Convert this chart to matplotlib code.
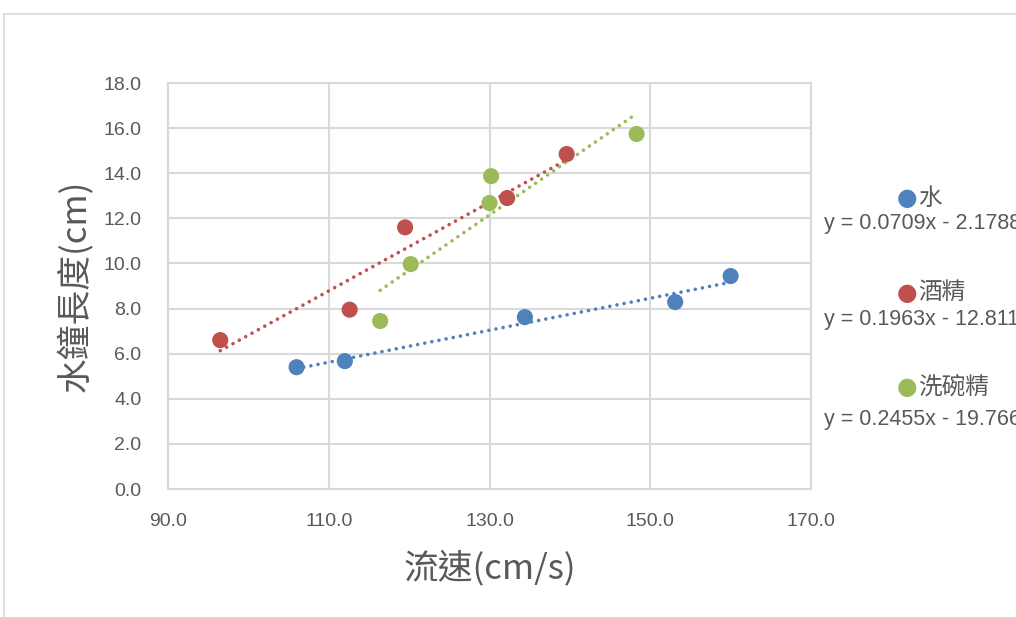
import numpy as np
import matplotlib
matplotlib.use("Agg")
from matplotlib import pyplot as plt
from matplotlib.patches import Rectangle

# data
series_names = ["水", "酒精", "洗碗精"]
water_x = [106.0, 112.0, 134.4, 153.1, 160.0]
water_y = [5.40, 5.67, 7.62, 8.29, 9.44]
alcohol_x = [96.5, 112.6, 119.5, 132.2, 139.6]
alcohol_y = [6.60, 7.95, 11.60, 12.90, 14.85]
soap_x = [116.4, 120.2, 130.2, 130.0, 148.3]
soap_y = [7.45, 9.97, 13.87, 12.68, 15.74]
slopes = [0.0709, 0.1963, 0.2455]
intercepts = [-2.1788, -12.811, -19.766]
equations = ["y = 0.0709x - 2.1788", "y = 0.1963x - 12.811", "y = 0.2455x - 19.766"]
colors = ["#4f81bd", "#c0504d", "#9bbb59"]

xs = [water_x, alcohol_x, soap_x]
ys = [water_y, alcohol_y, soap_y]

cjk = ["Noto Sans CJK TC", "DejaVu Sans"]
num_font = ["Liberation Sans", "DejaVu Sans"]
grid_c = "#d9d9d9"
text_c = "#595959"

fig = plt.figure(figsize=(10.16, 6.17), dpi=100)
ax = fig.add_axes([168 / 1016, 1 - 489 / 617, (811 - 168) / 1016, (489 - 83) / 617])

# outer chart frame
fig.patches.append(Rectangle((4 / 1016, -0.1), 1.2, 1 - 14 / 617 + 0.1, transform=fig.transFigure,
                             fill=False, edgecolor=grid_c, linewidth=1.2))

for i in range(3):
    x = np.array(xs[i])
    line_x = np.array([x.min(), x.max()])
    ax.plot(line_x, slopes[i] * line_x + intercepts[i], color=colors[i], linewidth=2.6,
            linestyle=(0, (0.01, 2.0)), dash_capstyle="round", zorder=2)
    ax.scatter(xs[i], ys[i], s=135, color=colors[i], edgecolors="none", zorder=3)

ax.set_xlim(90, 170)
ax.set_ylim(0, 18)
ax.set_xticks(np.arange(90, 171, 20))
ax.set_yticks(np.arange(0, 18.1, 2))
ax.set_xticklabels([f"{v:.1f}" for v in np.arange(90, 171, 20)], fontfamily=num_font, fontsize=14, color=text_c)
ax.set_yticklabels([f"{v:.1f}" for v in np.arange(0, 18.1, 2)], fontfamily=num_font, fontsize=14, color=text_c)
ax.tick_params(axis="x", length=0, pad=17)
ax.tick_params(axis="y", length=0, pad=19)
ax.grid(True, color=grid_c, linewidth=1.5)
ax.set_axisbelow(True)
for sp in ax.spines.values():
    sp.set_color(grid_c)
    sp.set_linewidth(1.5)

ax.set_xlabel("流速(cm/s)", fontfamily=cjk, fontsize=25, color=text_c, labelpad=15)
ax.set_ylabel("水鐘長度(cm)", fontfamily=cjk, fontsize=25, color=text_c, labelpad=7)

# legend entries and trendline equations outside the plot (cut at the right edge as in the original)
legend_y = [198, 293, 387]
eq_y = [224, 320, 419]
for i in range(3):
    fig.text(907 / 1016, 1 - legend_y[i] / 617, "●", color=colors[i], fontsize=17,
             ha="center", va="center", fontfamily="DejaVu Sans")
    fig.text(918 / 1016, 1 - legend_y[i] / 617, series_names[i], color=text_c, fontsize=17,
             ha="left", va="center", fontfamily=cjk)
    fig.text(824 / 1016, 1 - eq_y[i] / 617, equations[i], color=text_c, fontsize=15.5,
             ha="left", va="center", fontfamily=num_font)

fig.savefig("out.png", dpi=100)
